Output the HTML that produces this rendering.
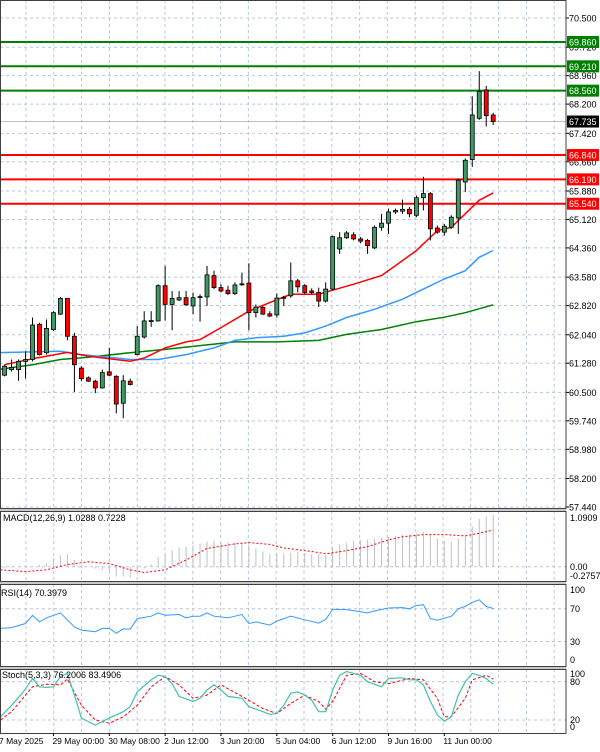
<!DOCTYPE html>
<html><head><meta charset="utf-8"><style>
html,body{margin:0;padding:0;background:#fff;}
svg{display:block;font-family:"Liberation Sans",sans-serif;}
</style></head><body>
<svg id="chart" width="600" height="752" viewBox="0 0 600 752" xmlns="http://www.w3.org/2000/svg">
<rect x="0" y="0" width="600" height="752" fill="#ffffff"/>
<g id="grid"></g>
<g id="levels"></g>
<g id="mas"></g>
<g id="candles"></g>
<g id="ind"></g>
<g id="axis"></g>
<text x="3" y="521" font-size="9" fill="#000">MACD(12,26,9) 1.0288 0.7228</text>
<text x="1" y="596" font-size="9" fill="#000">RSI(14) 70.3979</text>
<text x="2" y="678" font-size="9" fill="#000">Stoch(5,3,3) 76.2006 83.4906</text>
</svg>
<script>
const opens=[60.96,61.11,61.11,61.33,61.38,62.32,61.56,62.18,62.59,63.01,62.00,61.15,60.89,60.80,60.62,61.05,60.93,60.21,60.80,61.51,61.98,62.41,62.41,63.35,62.85,62.97,63.03,62.81,63.04,63.05,63.62,63.30,63.23,63.14,63.38,63.42,62.63,62.77,62.60,62.57,63.02,63.08,63.48,63.35,63.21,63.17,62.94,63.26,64.33,64.63,64.71,64.60,64.56,64.36,64.91,65.02,65.32,65.34,65.39,65.23,65.70,65.81,64.89,64.78,64.91,65.16,66.12,66.72,67.82,68.58,67.91];
const closes=[61.20,61.17,61.33,61.38,62.30,61.51,62.21,62.63,63.01,62.00,61.24,60.87,60.80,60.62,61.03,60.96,60.19,60.81,60.71,62.00,62.41,62.42,63.35,62.85,63.01,63.03,62.84,63.03,63.06,63.64,63.30,63.21,63.14,63.37,63.40,62.63,62.78,62.59,62.54,63.02,63.04,63.48,63.32,63.17,63.17,62.94,63.26,64.66,64.63,64.76,64.60,64.54,64.42,64.91,65.02,65.32,65.36,65.39,65.27,65.70,65.81,64.87,64.78,64.94,65.18,66.17,66.70,67.91,68.54,67.89,67.735];
const highs=[61.24,61.38,61.38,61.60,62.50,62.36,62.45,62.67,63.05,63.01,62.09,61.20,60.93,60.84,61.11,61.69,60.96,60.96,60.87,62.27,62.67,62.67,63.39,63.88,63.21,63.21,63.21,63.17,63.12,63.88,63.75,63.39,63.35,63.44,63.70,63.95,62.85,62.81,62.67,63.14,63.08,63.97,63.53,63.39,63.28,63.30,63.44,64.69,64.78,64.81,64.78,64.65,64.60,64.96,65.27,65.41,65.41,65.65,65.45,65.76,66.26,65.85,64.96,65.00,65.23,66.21,66.75,68.41,69.08,68.69,67.97];
const lows=[60.93,61.06,60.81,60.87,61.33,61.49,61.51,62.14,62.57,61.89,60.51,60.80,60.78,60.48,60.60,60.93,59.94,59.81,60.69,61.49,61.94,62.25,62.39,62.42,62.16,62.94,62.81,62.59,62.39,62.81,63.26,63.17,63.10,63.10,63.35,62.16,62.50,62.57,62.51,62.50,62.81,63.03,63.17,63.12,63.12,62.78,62.90,63.23,64.20,64.60,64.56,64.48,64.20,64.33,64.82,64.73,65.27,65.27,65.18,65.18,65.36,64.56,64.74,64.69,64.87,64.73,65.85,66.52,67.78,67.60,67.64];
const maRedIdx=[1,5,10,13,16,19,21,24,27,29,32,36,39,42,46,48,51,55,58,60,61,63,65,66,69,71];
const maRedVal=[61.24,61.40,61.57,61.47,61.40,61.33,61.42,61.69,61.85,61.91,62.23,62.67,62.90,63.12,63.12,63.23,63.39,63.62,64.02,64.29,64.47,64.82,64.91,65.09,65.63,65.83];
const maBlueIdx=[0,9,12,16,19,23,27,31,34,37,41,44,47,50,54,58,61,64,67,69,71];
const maBlueVal=[61.56,61.60,61.51,61.44,61.38,61.38,61.51,61.69,61.89,61.96,62.00,62.09,62.27,62.50,62.72,62.99,63.26,63.53,63.75,64.11,64.29];
const maGreenIdx=[0,5,9,13,19,24,29,34,40,46,50,55,60,64,67,71];
const maGreenVal=[61.11,61.24,61.38,61.44,61.56,61.65,61.75,61.85,61.85,61.89,62.05,62.18,62.39,62.51,62.63,62.84];
const greenLevels=[69.86,69.21,68.56];
const redLevels=[66.84,66.19,65.54];
const priceTicks=["70.500","69.720","68.960","68.200","67.420","66.660","65.880","65.120","64.360","63.580","62.820","62.040","61.280","60.500","59.740","58.980","58.200","57.440"];
const macdHist=[-0.04,-0.02,-0.01,0,0.01,0.04,0.07,0.19,0.26,0.28,0.15,0.01,0,-0.04,-0.07,-0.11,-0.22,-0.22,-0.25,-0.11,-0.04,0.05,0.22,0.30,0.37,0.43,0.45,0.49,0.52,0.56,0.58,0.56,0.55,0.55,0.52,0.50,0.41,0.34,0.28,0.30,0.30,0.31,0.34,0.30,0.28,0.28,0.26,0.45,0.50,0.54,0.58,0.60,0.61,0.63,0.65,0.67,0.69,0.71,0.72,0.74,0.77,0.71,0.63,0.58,0.56,0.63,0.69,0.90,1.07,1.12,1.16];
const macdSigIdx=[0.4,4,7,10,13,16,19,21,24,27,30,34,36,39,41,45,47,50,53,56,58,61,64,67,69,71];
const macdSigVal=[-0.07,-0.11,-0.07,0.05,0.11,0.07,-0.07,-0.13,-0.07,0.15,0.41,0.51,0.54,0.50,0.42,0.34,0.29,0.36,0.45,0.60,0.67,0.72,0.72,0.69,0.75,0.82];
const rsiIdx=[0.4,2,4,5,6,7,9,11,12,14,15,16,17,18,19,20,22,23,24,26,27,28,29,30,31,33,35,36,37,39,40,42,44,46,47,48,50,53,54,56,58,59,60,61,62,63,65,66,67,68,69,70,71];
const rsiVal=[46,47,52,62,54,59,65,48,44,42,46,46,40,45.5,45,58,61,65,62,63,59,61,61,65,61,59,63,52,54,50,55,61,56.5,52.5,57,69.5,69,65,67.5,71,71.5,70,74,75,58,56,61,70,73,78,81,73,70.4];
const stMainIdx=[0.4,2,3.7,5,6,7,8,9,10,11,12,14,16,18,19,20,22,23,24,25,26,28,29,30,31,32,33,35,36,38,39,40,41,42,43,44,45,46,47,48,49,50,51,52,53,55,56,58,59,60,61,62,63,64,65,66,67,68,69,70,71];
const stMainVal=[25,43,64,85,72,71,72,88,93,59,23,12,23,33,41,64,83,90,88,77,57,49,54,67,75,67,57,54,41,33,29,30,43,62,64,59,51,33,33,67,90,96,93,90,80,72,85,86,83,83,75,49,28,18,25,59,80,93,90,85,76];
const stSigIdx=[0.4,2,5,7,9,10,12,14,16,18,20,22,24,26,28,30,32,35,38,40,42,44,46,47,48,50,52,54,56,59,61,63,64,65,67,68,70,71];
const stSigVal=[20,33,72,76,75,84,43,20,15,25,43,72,88,75,54,59,75,57,38,30,46,59,49,37,49,90,93,80,77,85,83,54,25,25,54,83,90,84];
const dateLabels=["7 May 2025","29 May 00:00","30 May 08:00","2 Jun 12:00","3 Jun 20:00","5 Jun 04:00","6 Jun 12:00","9 Jun 16:00","11 Jun 00:00"];
const dateIdx=[-6,8,16,24,32,40,48,56,64];

const NS="http://www.w3.org/2000/svg";
function el(tag,attrs,parent){const e=document.createElementNS(NS,tag);for(const k in attrs)e.setAttribute(k,attrs[k]);parent.appendChild(e);return e;}
const AX=566;
const xI=i=>4.6+(i-1)*6.98;
const yP=p=>18+(70.5-p)/0.026708;
const yM=v=>566.7-v/0.0224;
const yR=v=>666-v*0.817;
const yS=v=>732.8-v*0.639;
const G=id=>document.getElementById(id);
const grid=G('grid'),lv=G('levels'),mas=G('mas'),cg=G('candles'),ind=G('ind'),ax=G('axis');
const panels=[[0,508],[511,581],[584,666],[669,733]];
for(let k=0;k<20;k++){const x=26+k*27.8;panels.forEach(pn=>{
 const l=el('line',{x1:x,x2:x,y1:pn[0],y2:pn[1],stroke:'#b8c6dc','stroke-dasharray':'3,3','stroke-width':1},grid);
 });}
priceTicks.forEach(t=>{const y=yP(parseFloat(t));
 const l=el('line',{x1:0,x2:AX,y1:y,y2:y,stroke:'#b8c6dc','stroke-dasharray':'3,3'},grid);
 
 el('line',{x1:AX,x2:AX+3,y1:y,y2:y,stroke:'#000'},ax);
 const tx=el('text',{x:AX+3,y:y+3.5,'font-size':9,fill:'#000'},ax);tx.textContent=t;
 });
[[yM(0)],[yR(70),yR(30)],[yS(80),yS(20)]].forEach((ys,pi)=>ys.forEach(y=>{
 const l=el('line',{x1:0,x2:AX,y1:y,y2:y,stroke:'#b8c6dc','stroke-dasharray':'3,3'},grid);
 }));
{const y=yP(closes[closes.length-1]);const l=el('line',{x1:0,x2:AX,y1:y,y2:y,stroke:'#c0c0c0'},lv);
 }
function level(p,col,name){const y=yP(p);
 const l=el('line',{x1:0,x2:AX,y1:y,y2:y,stroke:col,'stroke-width':2},lv);
 
 const r=el('rect',{x:AX+1,y:y-6,width:32,height:12,fill:col},ax);
 
 const t=el('text',{x:AX+3,y:y+3.5,'font-size':9,fill:'#fff'},ax);t.textContent=p.toFixed(3);
 }
greenLevels.forEach(p=>level(p,'#008000','resistance-level'));
redLevels.forEach(p=>level(p,'#ff0000','support-level'));
{const p=closes[closes.length-1],y=yP(p);const r=el('rect',{x:AX+1,y:y-6,width:32,height:12,fill:'#000'},ax);
 
 const t=el('text',{x:AX+3,y:y+3.5,'font-size':9,fill:'#fff'},ax);t.textContent=p.toFixed(3);
 }
function poly(idx,val,yf,col,w,dash,parent,name){const pts=idx.map((i,k)=>xI(i).toFixed(1)+','+yf(val[k]).toFixed(1)).join(' ');
 const a={points:pts,fill:'none',stroke:col,'stroke-width':w};if(dash)a['stroke-dasharray']=dash;
 const p=el('polyline',a,parent);}
poly(maGreenIdx,maGreenVal,yP,'#008000',1.5,null,mas,'ma-green');
poly(maBlueIdx,maBlueVal,yP,'#3399ff',1.5,null,mas,'ma-blue');
poly(maRedIdx,maRedVal,yP,'#ff0000',1.5,null,mas,'ma-red');
opens.forEach((o,k)=>{const c=closes[k],x=xI(k+1);
 const w=el('line',{x1:x,x2:x,y1:yP(highs[k]),y2:yP(lows[k]),stroke:'#000'},cg);
 
 const top=yP(Math.max(o,c)),bot=yP(Math.min(o,c));
 const b=el('rect',{x:x-2,y:top,width:4,height:Math.max(1,bot-top),fill:c>=o?'#3c9a62':'#ff0000',stroke:'#000','stroke-width':0.8},cg);
 });
macdHist.forEach((v,k)=>{const x=xI(k+1);const l=el('line',{x1:x,x2:x,y1:yM(0),y2:yM(v),stroke:'#c0c0c0'},ind);
 });
poly(macdSigIdx,macdSigVal,yM,'#ff0000',1,'2,2',ind,'macd-signal');
poly(rsiIdx,rsiVal,yR,'#3399ff',1,null,ind,'rsi-line');
poly(stSigIdx,stSigVal,yS,'#ff0000',1,'3,2',ind,'stoch-signal');
poly(stMainIdx,stMainVal,yS,'#40c0b0',1.2,null,ind,'stoch-main');
panels.forEach((pn,i)=>{const r=el('rect',{x:0.5,y:pn[0]+0.5,width:AX-0.5,height:pn[1]-pn[0],fill:'none',stroke:'#404040','stroke-width':1},ax);
 
 if(i>0){const l=el('line',{x1:0,x2:AX,y1:pn[0]-1,y2:pn[0]-1,stroke:'#909090'},ax);}});
[["1.0909",521],["0.00",570],["-0.2757",579],["100",593],["70",612],["30",645],["0",663],["100",677],["80",685],["20",723],["0",730]].forEach(a=>{
 const t=el('text',{x:AX+4,y:a[1],'font-size':9,fill:'#000'},ax);t.textContent=a[0];
 });
dateLabels.forEach((d,k)=>{const x=k===0?-1:xI(dateIdx[k])-1;const t=el('text',{x:x,y:744,'font-size':8.5,fill:'#000'},ax);t.textContent=d;
 
 if(k>0){const l=el('line',{x1:xI(dateIdx[k]),x2:xI(dateIdx[k]),y1:733,y2:736,stroke:'#000'},ax);}});
</script>
</body></html>
